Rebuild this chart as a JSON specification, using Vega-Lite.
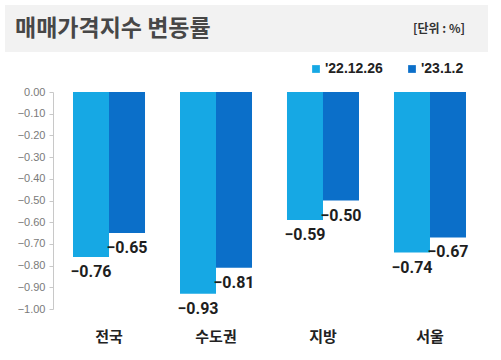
{
  "$schema": "https://vega.github.io/schema/vega-lite/v6.json",
  "background": "white",
  "padding": {"left": 5, "top": 5, "right": 5, "bottom": 5},
  "spacing": 34,
  "config": {
    "view": {"stroke": null},
    "font": "Noto Sans CJK KR"
  },
  "vconcat": [
    {
      "width": 483,
      "height": 47,
      "view": {"fill": "#F2F2F2", "stroke": null},
      "data": {"values": [{"label": "매매가격지수 변동률"}, {"label": "[단위 : %]"}]},
      "layer": [
        {
          "transform": [{"filter": "datum.label == '매매가격지수 변동률'"}],
          "mark": {"type": "text", "align": "left", "baseline": "middle", "fontSize": 23, "fontWeight": "bold", "color": "#474747", "font": "Noto Sans CJK KR"},
          "encoding": {
            "x": {"field": "label", "type": "nominal", "scale": {"type": "point", "padding": 0, "domain": ["매매가격지수 변동률", "[단위 : %]"], "range": [10, 460]}, "axis": null},
            "text": {"field": "label"}
          }
        },
        {
          "transform": [{"filter": "datum.label == '[단위 : %]'"}],
          "mark": {"type": "text", "align": "right", "baseline": "middle", "fontSize": 12, "fontWeight": "bold", "color": "#333333", "font": "Noto Sans CJK KR"},
          "encoding": {
            "x": {"field": "label", "type": "nominal", "scale": {"type": "point", "padding": 0, "domain": ["매매가격지수 변동률", "[단위 : %]"], "range": [10, 460]}, "axis": null},
            "text": {"field": "label"}
          }
        }
      ]
    },
    {
      "width": 483,
      "height": 217,
      "data": {
        "values": [
          {"region": "전국", "period": "'22.12.26", "value": -0.76},
          {"region": "전국", "period": "'23.1.2", "value": -0.65},
          {"region": "수도권", "period": "'22.12.26", "value": -0.93},
          {"region": "수도권", "period": "'23.1.2", "value": -0.81},
          {"region": "지방", "period": "'22.12.26", "value": -0.59},
          {"region": "지방", "period": "'23.1.2", "value": -0.50},
          {"region": "서울", "period": "'22.12.26", "value": -0.74},
          {"region": "서울", "period": "'23.1.2", "value": -0.67}
        ]
      },
      "encoding": {
        "x": {
          "field": "region", "type": "nominal", "sort": ["전국", "수도권", "지방", "서울"],
          "scale": {"paddingInner": 0.327, "paddingOuter": 0.187, "range": [48, 481]},
          "axis": {"title": null, "domain": false, "ticks": false, "labelAngle": 0, "labelPadding": 20, "labelFontSize": 15, "labelFontWeight": "bold", "labelColor": "#222222", "labelFont": "Noto Sans CJK KR"}
        },
        "xOffset": {"field": "period", "type": "nominal", "sort": ["'22.12.26", "'23.1.2"]},
        "y": {
          "field": "value", "type": "quantitative",
          "scale": {"domain": [-1, 0], "nice": false},
          "axis": {"title": null, "offset": -48, "values": [0, -0.1, -0.2, -0.3, -0.4, -0.5, -0.6, -0.7, -0.8, -0.9, -1.0], "format": ".2f", "grid": false, "domainColor": "#C8C8C8", "tickColor": "#C8C8C8", "tickSize": 4, "labelPadding": 4, "labelFontSize": 11, "labelColor": "#7A7A7A", "labelFont": "Liberation Sans"}
        }
      },
      "layer": [
        {
          "mark": {"type": "bar"},
          "encoding": {
            "color": {
              "field": "period", "type": "nominal", "sort": ["'22.12.26", "'23.1.2"],
              "scale": {"domain": ["'22.12.26", "'23.1.2"], "range": ["#16A8E4", "#0B6FC9"]},
              "legend": {"title": null, "orient": "none", "direction": "horizontal", "legendX": 304, "legendY": 57, "symbolType": "square", "symbolSize": 60, "symbolStrokeWidth": 0, "labelFontSize": 14, "labelFontWeight": "bold", "labelColor": "#222222", "labelFont": "Liberation Sans", "columnPadding": 22, "labelOffset": 2}
            }
          }
        },
        {
          "mark": {"type": "text", "baseline": "top", "dy": 7, "fontSize": 16, "fontWeight": "bold", "color": "#1E1E1E", "font": "Roboto"},
          "encoding": {
            "text": {"field": "value", "type": "quantitative", "format": ".2f"}
          }
        }
      ]
    }
  ]
}
